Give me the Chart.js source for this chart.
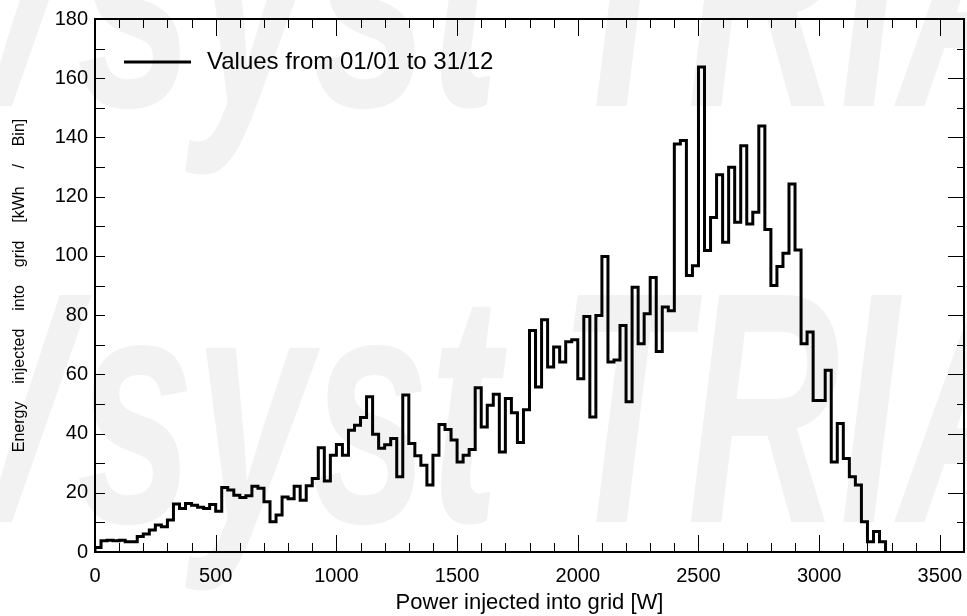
<!DOCTYPE html>
<html lang="en">
<head>
  <meta charset="UTF-8" />
  <title>Energy injected into grid - histogram</title>
  <script src="https://cdn.jsdelivr.net/npm/chart.js"></script>
  <style>
    body {
      margin: 0;
      background: #fff;
    }
    .wrap {
      width: 967px;
      height: 616px;
    }
  </style>
</head>
<body>
  <div class="wrap">
    <canvas id="histo" width="967" height="616"></canvas>
  </div>

  <script>
    // bin width of the histogram, in W
    const binWidth = 25;

    // energy per bin [kWh], bins start at 0 W and go up by binWidth
    const energyPerBin = [
      1.5, 3.8, 4.0, 3.8, 4.0, 3.5, 3.5, 5.2, 6.1, 7.4,
      9.1, 8.5, 10.8, 16.2, 14.7, 16.4, 15.8, 15.1, 14.7, 16.0,
      13.8, 21.8, 20.9, 19.2, 18.4, 19.0, 22.2, 21.5, 17.0, 10.2,
      12.5, 18.6, 18.0, 22.2, 17.5, 22.4, 24.8, 35.2, 24.0, 32.7,
      36.3, 32.7, 41.1, 42.8, 45.4, 52.4, 39.8, 35.0, 36.2, 38.3,
      25.4, 53.0, 36.6, 32.5, 29.3, 22.6, 32.7, 43.1, 41.4, 37.8,
      30.4, 32.7, 34.6, 55.5, 42.2, 49.6, 53.3, 33.8, 51.8, 47.0,
      37.0, 48.0, 74.8, 55.7, 78.4, 62.5, 69.2, 64.2, 71.0, 71.7,
      58.5, 79.5, 45.6, 79.9, 99.8, 64.2, 64.8, 76.5, 50.7, 89.4,
      70.3, 80.5, 92.7, 67.7, 82.7, 81.5, 137.8, 139.0, 93.4, 96.7,
      163.8, 101.8, 113.0, 127.4, 104.6, 129.9, 111.4, 137.2, 110.8, 114.7,
      143.9, 108.9, 90.0, 96.4, 100.9, 124.3, 102.0, 70.3, 74.3, 51.2,
      51.2, 61.4, 30.4, 43.4, 31.6, 25.4, 22.6, 10.2, 3.5, 6.9,
      3.5
    ];

    const xTickLabels = [0, 500, 1000, 1500, 2000, 2500, 3000, 3500];
    const yTickLabels = [0, 20, 40, 60, 80, 100, 120, 140, 160, 180];

    const legendLabel = 'Values from 01/01 to 31/12';
    const xTitle = 'Power injected into grid [W]';
    const yTitle = 'Energy    injected    into    grid    [kWh    /    Bin]';
    const watermark = 'PVsyst TRIAL';

    const xMax = 3600;
    const xMinorStep = 100;
    const yMinorStep = 10;

    // step outline points: rise at 0, one point per bin start, drop at the end
    const points = [{ x: 0, y: 0 }];
    energyPerBin.forEach((v, i) => points.push({ x: i * binWidth, y: v }));
    points.push({ x: energyPerBin.length * binWidth, y: 0 });

    const FONT = "'Liberation Sans', Arial, sans-serif";

    // faint trial watermark behind everything
    const watermarkPlugin = {
      id: 'watermark',
      beforeDraw(chart) {
        const ctx = chart.ctx;
        ctx.save();
        ctx.fillStyle = '#f2f2f2';
        ctx.font = 'italic bold 330px ' + FONT;
        ctx.textBaseline = 'alphabetic';
        [106, 522].forEach(base => {
          ctx.setTransform(0.64, 0, 0, 1, -205, base);
          ctx.fillText(watermark, 0, 0);
        });
        ctx.restore();
      }
    };

    // box frame, inward ticks on all four sides, and the legend
    const framePlugin = {
      id: 'frame',
      afterDraw(chart) {
        const { ctx, chartArea: a, scales: { x, y } } = chart;
        ctx.save();
        ctx.strokeStyle = '#000';

        ctx.lineWidth = 1;
        ctx.beginPath();
        for (let v = 0; v <= xMax; v += xMinorStep) {
          const px = Math.round(x.getPixelForValue(v)) + 0.5;
          const len = v % 500 === 0 ? 17 : 9;
          ctx.moveTo(px, a.bottom); ctx.lineTo(px, a.bottom - len);
          ctx.moveTo(px, a.top); ctx.lineTo(px, a.top + len);
        }
        for (let v = 0; v <= 180; v += yMinorStep) {
          const py = Math.round(y.getPixelForValue(v)) + 0.5;
          ctx.moveTo(a.left, py); ctx.lineTo(a.left + 10, py);
          const len = v % 20 === 0 ? 16 : 7;
          ctx.moveTo(a.right, py); ctx.lineTo(a.right - len, py);
        }
        ctx.stroke();

        ctx.lineWidth = 2;
        ctx.strokeRect(a.left, a.top, a.right - a.left, a.bottom - a.top);

        // legend
        ctx.lineWidth = 3;
        ctx.beginPath();
        ctx.moveTo(a.left + 29, a.top + 43);
        ctx.lineTo(a.left + 96, a.top + 43);
        ctx.stroke();
        ctx.fillStyle = '#000';
        ctx.font = '24px ' + FONT;
        ctx.textBaseline = 'middle';
        ctx.fillText(legendLabel, a.left + 112, a.top + 43);
        ctx.restore();
      }
    };

    new Chart(document.getElementById('histo'), {
      type: 'line',
      data: {
        datasets: [{
          label: legendLabel,
          data: points,
          stepped: 'before',
          borderColor: '#000',
          borderWidth: 3,
          pointRadius: 0,
          fill: false,
          tension: 0
        }]
      },
      options: {
        responsive: false,
        animation: false,
        devicePixelRatio: 1,
        layout: { padding: { left: 0, right: 3, top: 18, bottom: 0 } },
        plugins: {
          legend: { display: false },
          tooltip: { enabled: false }
        },
        scales: {
          x: {
            type: 'linear',
            min: 0,
            max: xMax,
            grid: { display: false, drawTicks: false },
            border: { display: false },
            afterBuildTicks: s => { s.ticks = xTickLabels.map(v => ({ value: v })); },
            ticks: {
              autoSkip: false,
              color: '#000',
              padding: 12,
              maxRotation: 0,
              font: { family: FONT, size: 20 },
              callback: v => String(v)
            },
            title: {
              display: true,
              text: xTitle,
              color: '#000',
              font: { family: FONT, size: 22 },
              padding: { top: 2, bottom: 0 }
            },
            afterFit: s => {
              s.height = 64;
              s.paddingLeft = 0;
              s.paddingRight = 0;
            }
          },
          y: {
            min: 0,
            max: 180,
            grid: { display: false, drawTicks: false },
            border: { display: false },
            afterBuildTicks: s => { s.ticks = yTickLabels.map(v => ({ value: v })); },
            ticks: {
              autoSkip: false,
              color: '#000',
              padding: 7,
              font: { family: FONT, size: 20 },
              callback: v => String(v)
            },
            title: {
              display: true,
              text: yTitle,
              color: '#000',
              font: { family: FONT, size: 16 },
              padding: { top: 10, bottom: 0 }
            },
            afterFit: s => { s.width = 95; }
          }
        }
      },
      plugins: [watermarkPlugin, framePlugin]
    });
  </script>
</body>
</html>
